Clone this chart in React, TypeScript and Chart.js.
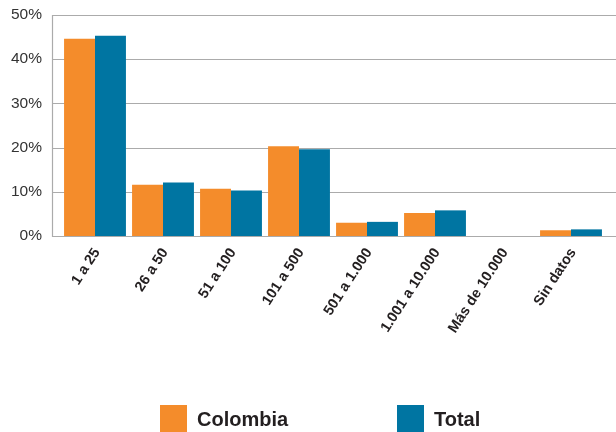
import React, { useEffect, useRef } from 'react';
import { Chart, registerables } from 'chart.js';

Chart.register(...registerables);

const categories = ['1 a 25', '26 a 50', '51 a 100', '101 a 500', '501 a 1.000', '1.001 a 10.000', 'Más de 10.000', 'Sin datos'];
const colombia = [44.6, 11.6, 10.7, 20.3, 3.0, 5.2, 0, 1.3];
const total = [45.3, 12.1, 10.3, 19.6, 3.2, 5.8, 0, 1.5];
const yTicks = [0, 10, 20, 30, 40, 50];
const seriesNames = ['Colombia', 'Total'];
const seriesColors = ['#F48C2B', '#0075A2'];

const FONT = "'Liberation Sans', Arial, Helvetica, sans-serif";
const legendX = [160, 397];

const gridPlugin = {
  id: 'customGrid',
  beforeDatasetsDraw(chart: any) {
    const { ctx, chartArea, scales } = chart;
    const y = scales.y;
    const left = Math.round(chartArea.left - 9) + 0.5;
    ctx.save();
    ctx.strokeStyle = '#ababab';
    ctx.lineWidth = 1.2;
    for (const v of yTicks) {
      const py = Math.round(y.getPixelForValue(v)) + 0.5;
      ctx.beginPath();
      ctx.moveTo(left, py);
      ctx.lineTo(chart.width, py);
      ctx.stroke();
    }
    ctx.beginPath();
    ctx.moveTo(left, Math.round(y.getPixelForValue(yTicks[yTicks.length - 1])));
    ctx.lineTo(left, Math.round(y.getPixelForValue(0)) + 1);
    ctx.stroke();
    ctx.restore();
  },
};

const legendPlugin = {
  id: 'customLegend',
  afterDraw(chart: any) {
    const { ctx } = chart;
    ctx.save();
    chart.data.datasets.forEach((ds: any, i: number) => {
      const x = legendX[i];
      const top = 405;
      ctx.fillStyle = ds.backgroundColor;
      ctx.fillRect(x, top, 27, 27);
      ctx.fillStyle = '#231f20';
      ctx.font = `bold 20px ${FONT}`;
      ctx.textAlign = 'left';
      ctx.textBaseline = 'alphabetic';
      ctx.fillText(ds.label, x + 37, 426);
    });
    ctx.restore();
  },
};

export default function App() {
  const ref = useRef<HTMLCanvasElement>(null);
  useEffect(() => {
    if (!ref.current) return;
    const chart = new Chart(ref.current, {
      type: 'bar',
      data: {
        labels: categories,
        datasets: [
          { label: seriesNames[0], data: colombia, backgroundColor: seriesColors[0], borderWidth: 0, categoryPercentage: 0.91, barPercentage: 1 },
          { label: seriesNames[1], data: total, backgroundColor: seriesColors[1], borderWidth: 0, categoryPercentage: 0.91, barPercentage: 1 },
        ],
      },
      options: {
        responsive: false,
        animation: false,
        layout: { padding: { top: 15, right: 11, left: 0, bottom: 0 } },
        plugins: { legend: { display: false }, tooltip: { enabled: false } },
        scales: {
          x: {
            afterFit: (s: any) => { s.height = 196; s.paddingTop = 0; s.paddingBottom = 0; },
            grid: { display: false, drawTicks: false },
            border: { display: false },
            ticks: {
              font: { family: FONT, size: 14.5, weight: 'bold' },
              color: '#231f20',
              minRotation: 57,
              maxRotation: 57,
              padding: 9,
              labelOffset: 2,
              autoSkip: false,
            },
          },
          y: {
            min: 0,
            max: 50,
            afterFit: (s: any) => { s.width = 61; s.paddingTop = 0; s.paddingBottom = 0; },
            grid: { display: false, drawTicks: false },
            border: { display: false },
            ticks: {
              stepSize: 10,
              font: { family: FONT, size: 15.5 },
              color: '#333333',
              padding: 19,
              callback: (v: any) => v + '%',
            },
          },
        },
      },
      plugins: [gridPlugin, legendPlugin],
    });
    return () => chart.destroy();
  }, []);
  return (
    <div style={{ position: 'fixed', left: 0, top: 0, width: 616, height: 432, background: '#fff' }}>
      <canvas ref={ref} width={616} height={432} />
    </div>
  );
}
